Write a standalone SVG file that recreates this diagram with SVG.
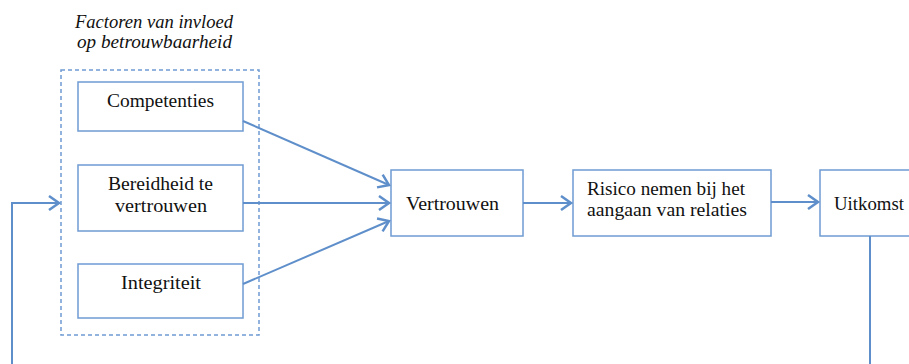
<svg xmlns="http://www.w3.org/2000/svg" width="909" height="364" viewBox="0 0 909 364">
<style>
.box{fill:#fff;stroke:#6f9bd2;stroke-width:1.5}
.grp{fill:none;stroke:#6f9bd2;stroke-width:1.5;stroke-dasharray:4 3}
.t{font-family:"Liberation Serif","Times New Roman",serif;font-size:19px;fill:#111}
.ti{font-family:"Liberation Serif","Times New Roman",serif;font-size:18.5px;font-style:italic;fill:#111}
.c{fill:none;stroke:#5f8fca;stroke-width:2}
</style>
<defs>
<marker id="ah" markerWidth="16" markerHeight="16" refX="12" refY="8" orient="auto" markerUnits="userSpaceOnUse">
<path d="M2,1 L12,8 L2,15" fill="none" stroke="#5f8fca" stroke-width="2.5"/>
</marker>
</defs>
<g id="title">
<text class="ti" x="75" y="28" textLength="158" lengthAdjust="spacingAndGlyphs">Factoren van invloed</text>
<text class="ti" x="77" y="48" textLength="155" lengthAdjust="spacingAndGlyphs">op betrouwbaarheid</text>
</g>
<g id="factoren"><rect class="grp" x="61" y="70" width="198" height="265"/></g>
<g id="competenties"><rect class="box" x="78" y="82" width="165" height="49"/><text class="t" x="107" y="107" textLength="107" lengthAdjust="spacingAndGlyphs">Competenties</text></g>
<g id="bereidheid"><rect class="box" x="78" y="165" width="165" height="66"/><text class="t" x="108" y="190" textLength="105" lengthAdjust="spacingAndGlyphs">Bereidheid te</text><text class="t" x="115" y="212" textLength="92" lengthAdjust="spacingAndGlyphs">vertrouwen</text></g>
<g id="integriteit"><rect class="box" x="78" y="264" width="165" height="54"/><text class="t" x="121" y="289" textLength="80" lengthAdjust="spacingAndGlyphs">Integriteit</text></g>
<g id="vertrouwen"><rect class="box" x="391" y="170" width="132" height="66"/><text class="t" x="406" y="210" textLength="93" lengthAdjust="spacingAndGlyphs">Vertrouwen</text></g>
<g id="risico"><rect class="box" x="573" y="170" width="198" height="66"/><text class="t" x="587" y="195" textLength="158" lengthAdjust="spacingAndGlyphs">Risico nemen bij het</text><text class="t" x="587" y="216" textLength="160" lengthAdjust="spacingAndGlyphs">aangaan van relaties</text></g>
<g id="uitkomst"><rect class="box" x="820" y="170" width="100" height="66"/><text class="t" x="834" y="210" textLength="70" lengthAdjust="spacingAndGlyphs">Uitkomst</text></g>
<g id="connectors">
<line class="c" x1="243" y1="121" x2="389" y2="185" marker-end="url(#ah)"/>
<line class="c" x1="243" y1="203" x2="389" y2="203" marker-end="url(#ah)"/>
<line class="c" x1="243" y1="284" x2="389" y2="221" marker-end="url(#ah)"/>
<line class="c" x1="523" y1="203" x2="571" y2="203" marker-end="url(#ah)"/>
<line class="c" x1="771" y1="202" x2="818" y2="202" marker-end="url(#ah)"/>
<polyline class="c" points="870,236 870,364"/>
<polyline class="c" points="12,364 12,203 59,203" marker-end="url(#ah)"/>
</g>
</svg>
